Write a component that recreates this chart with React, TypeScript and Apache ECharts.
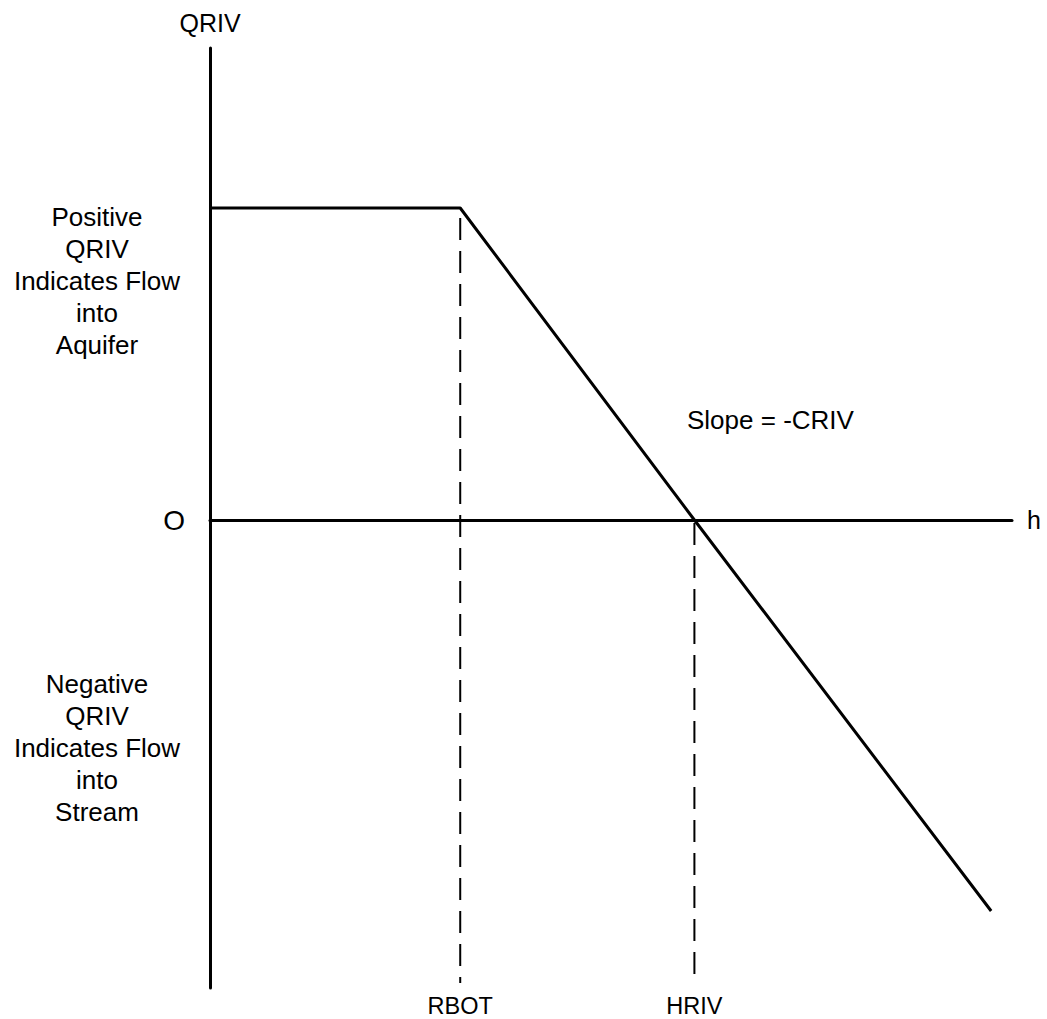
import React, { useEffect, useRef } from 'react';
import * as echarts from 'echarts';

// Data (conceptual units: h along x, QRIV along y)
const hRange = [0, 10];
const qRange = [-4.68, 4.72];
const qrivLine: [number, number][] = [
  [0, 3.12],
  [3.12, 3.12],
  [6.04, 0],
  [9.74, -3.91],
];
const rbotGuide: [number, number][] = [
  [3.12, 3.02],
  [3.12, -4.63],
];
const hrivGuide: [number, number][] = [
  [6.04, -0.03],
  [6.04, -4.63],
];
const xTickValues = [3.12, 6.04];
const xTickLabels = ['RBOT', 'HRIV'];
const yTickValues = [0];
const yTickLabels = ['O'];
const positiveNote = ['Positive', 'QRIV', 'Indicates Flow', 'into', 'Aquifer'];
const negativeNote = ['Negative', 'QRIV', 'Indicates Flow', 'into', 'Stream'];
const slopeNote = 'Slope = -CRIV';
const xName = 'h';
const yName = 'QRIV';

const FONT = "'Liberation Sans', Arial, Helvetica, sans-serif";

export default function App() {
  const ref = useRef<HTMLDivElement>(null);

  useEffect(() => {
    if (!ref.current) return;
    const chart = echarts.init(ref.current, undefined, { renderer: 'svg' });
    const option: any = {
      animation: false,
      backgroundColor: '#ffffff',
      textStyle: { fontFamily: FONT, color: '#000' },
      grid: { left: 210, right: 35, top: 48, bottom: 31, containLabel: false },
      xAxis: [
        {
          type: 'value',
          min: hRange[0],
          max: hRange[1],
          name: xName,
          nameLocation: 'end',
          nameGap: 15,
          nameTextStyle: { fontSize: 25, color: '#000', fontFamily: FONT, verticalAlign: 'middle' },
          axisLine: { show: true, onZero: true, lineStyle: { color: '#000', width: 3 } },
          axisTick: { show: false },
          axisLabel: { show: false },
          splitLine: { show: false },
        },
        {
          type: 'value',
          min: hRange[0],
          max: hRange[1],
          position: 'bottom',
          axisLine: { show: false, onZero: false },
          axisTick: { show: false },
          splitLine: { show: false },
          axisLabel: {
            show: true,
            customValues: xTickValues,
            margin: 6,
            fontSize: 23.5,
            color: '#000',
            fontFamily: FONT,
            formatter: (v: number) => {
              const i = xTickValues.findIndex((t) => Math.abs(t - v) < 1e-6);
              return i >= 0 ? xTickLabels[i] : '';
            },
          },
        },
      ],
      yAxis: {
        type: 'value',
        min: qRange[0],
        max: qRange[1],
        name: yName,
        nameLocation: 'end',
        nameGap: 13,
        nameTextStyle: { fontSize: 25, color: '#000', fontFamily: FONT, align: 'center' },
        axisLine: { show: true, onZero: true, lineStyle: { color: '#000', width: 3 } },
        axisTick: { show: false },
        splitLine: { show: false },
        axisLabel: {
          show: true,
          customValues: yTickValues,
          margin: 25,
          fontSize: 28,
          color: '#000',
          fontFamily: FONT,
          formatter: (v: number) => {
            const i = yTickValues.findIndex((t) => Math.abs(t - v) < 1e-6);
            return i >= 0 ? yTickLabels[i] : '';
          },
        },
      },
      series: [
        {
          type: 'line',
          data: qrivLine,
          symbol: 'none',
          lineStyle: { color: '#000', width: 3 },
          z: 3,
        },
        {
          type: 'line',
          data: rbotGuide,
          symbol: 'none',
          lineStyle: { color: '#000', width: 2, type: [22, 11] },
          z: 2,
        },
        {
          type: 'line',
          data: hrivGuide,
          symbol: 'none',
          lineStyle: { color: '#000', width: 2, type: [22, 11] },
          z: 2,
        },
      ],
      graphic: [
        {
          type: 'text',
          x: 97,
          y: 281,
          style: {
            text: positiveNote.join('\n'),
            fontSize: 26,
            fontFamily: FONT,
            fill: '#000',
            align: 'center',
            verticalAlign: 'middle',
            lineHeight: 32,
          },
        },
        {
          type: 'text',
          x: 97,
          y: 748,
          style: {
            text: negativeNote.join('\n'),
            fontSize: 26,
            fontFamily: FONT,
            fill: '#000',
            align: 'center',
            verticalAlign: 'middle',
            lineHeight: 32,
          },
        },
        {
          type: 'text',
          x: 687,
          y: 420,
          style: {
            text: slopeNote,
            fontSize: 26,
            fontFamily: FONT,
            fill: '#000',
            align: 'left',
            verticalAlign: 'middle',
          },
        },
      ],
    };
    chart.setOption(option);
    return () => chart.dispose();
  }, []);

  return (
    <div
      ref={ref}
      style={{ position: 'absolute', left: 0, top: 0, width: 1047, height: 1019, background: '#fff' }}
    />
  );
}
